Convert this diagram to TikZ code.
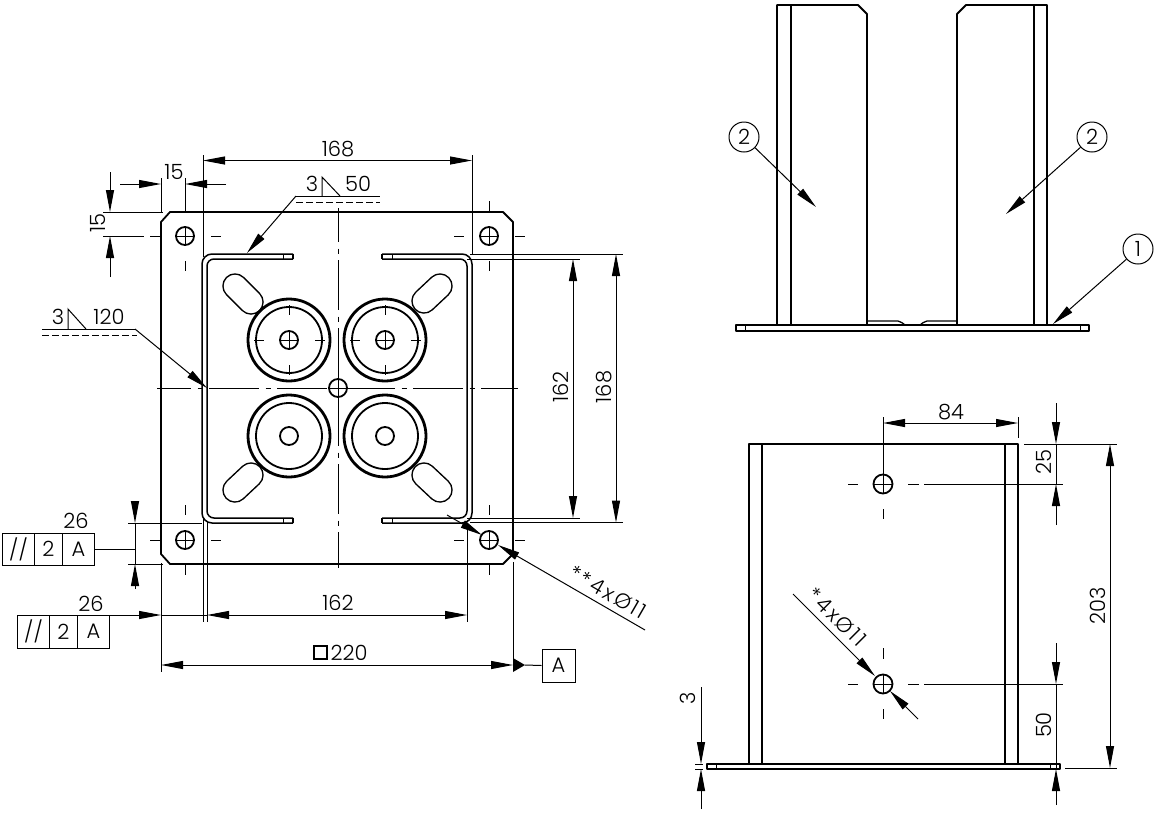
\documentclass[tikz,border=0pt]{standalone}
\usepackage{fontspec}
\setmainfont[UprightFont=* Light]{Poppins}
\usetikzlibrary{arrows.meta}
\tikzset{
  >={Triangle[length=22pt,width=8pt]},
  obj/.style={line width=1.8pt,line join=round},
  heavy/.style={line width=2.8pt},
  thin1/.style={line width=1pt},
  dim/.style={line width=1pt},
  lbl/.style={inner sep=0pt,font=\fontsize{21}{21}\selectfont},
  spaced/.style={inner sep=0pt,font=\fontsize{21}{21}\selectfont\addfontfeature{LetterSpace=11}},
  cell/.style={draw,line width=1pt,inner sep=0pt,font=\fontsize{21}{21}\selectfont,minimum height=32pt},
  balloon/.style={draw,circle,line width=1pt,minimum size=30pt,inner sep=0pt,font=\fontsize{21}{21}\selectfont},
  axisline/.style={line width=1pt,dash pattern=on 50pt off 6.5pt on 5pt off 6.5pt,dash phase=16pt},
}
\newcommand{\slotshape}[4]{%
  \draw[line width=25.5pt,line cap=round] (#1,#2) -- (#3,#4);
  \draw[white,line width=22.5pt,line cap=round] (#1,#2) -- (#3,#4);}
\begin{document}
\begin{tikzpicture}[x=1pt,y=-1pt]
\useasboundingbox (0,0) rectangle (1160,815);
\fill[white] (0,0) rectangle (1160,815);

% ---------- plan view ----------
\draw[obj] (170,212) -- (503,212) -- (513,222) -- (513,554) -- (503,564) -- (170,564) -- (161,554) -- (161,222) -- cycle;
\slotshape{235}{286}{251}{302}
\slotshape{440}{286}{424}{301}
\slotshape{235}{490}{251}{475}
\slotshape{440}{490}{424}{475}
% channel
\draw[obj,line width=1.5pt] (293,254) -- (212,254) arc[start angle=270,end angle=180,radius=10] -- (202,513) arc[start angle=180,end angle=90,radius=10] -- (293,523);
\draw[obj,line width=1.5pt] (293,259) -- (214,259) arc[start angle=270,end angle=180,radius=7] -- (207,511) arc[start angle=180,end angle=90,radius=7] -- (293,518);
\draw[obj,line width=1.5pt] (293,254) -- (293,259) (293,518) -- (293,523);
\draw[thin1] (283,254) -- (283,259) (283,518) -- (283,523);
\draw[obj,line width=1.5pt] (382,254) -- (462,254) arc[start angle=270,end angle=360,radius=10] -- (472,513) arc[start angle=0,end angle=90,radius=10] -- (382,523);
\draw[obj,line width=1.5pt] (382,259) -- (460,259) arc[start angle=270,end angle=360,radius=7] -- (467,511) arc[start angle=0,end angle=90,radius=7] -- (382,518);
\draw[obj,line width=1.5pt] (382,254) -- (382,259) (382,518) -- (382,523);
\draw[thin1] (392,254) -- (392,259) (392,518) -- (392,523);
% rings
\foreach \cx/\cy in {289/340,385/340,289/436,385/436}{
  \draw[heavy] (\cx,\cy) circle (41);
  \draw[obj] (\cx,\cy) circle (33);
  \draw[obj] (\cx,\cy) circle (9);
}
\foreach \cx in {289,385}{
  \draw[thin1] (\cx-9,340) -- (\cx+9,340) (\cx,331) -- (\cx,349)
    (\cx-35,340) -- (\cx-25,340) (\cx+26,340) -- (\cx+36,340)
    (\cx,305) -- (\cx,315) (\cx,365) -- (\cx,375);
}
% corner holes
\foreach \cx/\cy in {185/236,489/236,185/540,489/540}{
  \draw[obj] (\cx,\cy) circle (9);
  \draw[thin1] (\cx-9,\cy) -- (\cx+9,\cy) (\cx,\cy-9) -- (\cx,\cy+9);
  \draw[thin1] (\cx-35,\cy) -- (\cx-25,\cy) (\cx+26,\cy) -- (\cx+36,\cy) (\cx,\cy+25) -- (\cx,\cy+35);
}
\draw[thin1] (185,178) -- (185,211) (489,201) -- (489,211) (185,505) -- (185,515) (489,505) -- (489,515);
% centre
\draw[obj] (338,388) circle (9);
\draw[thin1] (329,388) -- (347,388) (338,379) -- (338,397);
\draw[axisline] (157,388) -- (518,388);
\draw[axisline] (338,208) -- (338,568);

% dimension 168 top
\draw[dim] (203,155) -- (203,257) (472,155) -- (472,254);
\draw[dim,<->] (203,160.5) -- (472,160.5);
\node[lbl] (d168a) at (338,149) {168};
% 15 horizontal
\draw[dim] (161,178) -- (161,213);
\draw[dim,->] (120,184) -- (161,184);
\draw[dim,->] (226,184) -- (185,184);
\node[lbl] (d15a) at (174,172) {15};
% 15 vertical
\draw[dim] (103,212) -- (163,212) (103,236) -- (144,236);
\draw[dim,->] (110,172) -- (110,212);
\draw[dim,->] (110,277) -- (110,236);
\node[lbl,rotate=90] (d15b) at (98,223) {15};
% weld 50
\coordinate (w1) at (296,196);
\coordinate (w1t) at (247,253);
\draw[dim,->] (w1) -- (w1t);
\draw[dim] (w1) -- (380,196);
\draw[dim,dash pattern=on 7pt off 3pt] (296,202) -- (380,202);
\draw[dim] (322,196) -- (322,177) -- (340,196);
\node[lbl] (w1a) at (312,184) {3};
\node[lbl] (w1b) at (358,184) {50};
% weld 120
\coordinate (w2) at (135,329);
\coordinate (w2t) at (207,388);
\draw[dim,->] (w2) -- (w2t);
\draw[dim] (42,329) -- (w2);
\draw[dim,dash pattern=on 7pt off 3pt] (42,335) -- (137,335);
\draw[dim] (68,329) -- (68,309) -- (86,329);
\node[lbl] (w2a) at (58,317) {3};
\node[lbl] (w2b) at (109,317) {120};
% tolerance frame 1
\node[cell,minimum width=32pt,anchor=west] (f1a) at (2,549) {//};
\node[cell,minimum width=28pt,anchor=west] (f1b) at (34,549) {2};
\node[cell,minimum width=32pt,anchor=west] (f1c) at (62,549) {A};
\node[lbl] (f1t) at (76,521) {26};
\coordinate (f1e) at (135,549);
\draw[dim] (f1c.east) -- (f1e);
\draw[dim] (128,523) -- (202,523) (128,564) -- (163,564);
\draw[dim,->] (135,501) -- (135,523);
\draw[dim,->] (135,589) -- (135,564);
\draw[dim] (135,523) -- (135,564);
% tolerance frame 2
\node[cell,minimum width=32pt,minimum height=33pt,anchor=west] (f2a) at (17,631.5) {//};
\node[cell,minimum width=28pt,minimum height=33pt,anchor=west] (f2b) at (49,631.5) {2};
\node[cell,minimum width=32pt,minimum height=33pt,anchor=west] (f2c) at (77,631.5) {A};
\node[lbl] (f2t) at (91,604) {26};
\draw[dim,->] (109,615) -- (161,615);
\draw[dim] (161,563) -- (161,672) (203,518) -- (203,622) (207,522) -- (207,622) (467,523) -- (467,622);
\draw[dim] (161,615) -- (207,615);
\draw[dim,<->] (207,615) -- (467,615);
\node[lbl] (d162a) at (338,603) {162};
% 220
\draw[dim] (513,562) -- (513,665);
\draw[dim,<->] (161,665) -- (513,665);
\draw[thin1,line width=1.2pt] (314,646) rectangle (327,659);
\node[lbl] (d220) at (349,653) {220};
\node[draw,line width=1pt,minimum size=33pt,inner sep=0pt,font=\fontsize{21}{21}\selectfont] (datum) at (558.5,665.5) {A};
\fill (513,658) -- (525,665) -- (513,672) -- cycle;
\coordinate (dat) at (525,665);
\draw[dim] (dat) -- (datum.west);
% 162, 168 vertical
\draw[dim] (467,259) -- (580,259) (467,518) -- (580,518) (470,254) -- (623,254) (470,522.5) -- (623,522.5);
\draw[dim,<->] (573,259) -- (573,518);
\draw[dim,<->] (616,254) -- (616,522.5);
\node[lbl,rotate=90] (d162b) at (561,387) {162};
\node[lbl,rotate=90] (d168b) at (604,387) {168};
% leader 4x dia 11 (plan)
\draw[dim,->] (447,515) -- (482,535);
\draw[dim,->] (645,630) -- (498,545);
\node[spaced,rotate=-30] (d4a) at (608,592) {**4xØ11};

% ---------- upper elevation ----------
\draw[obj] (777,325) -- (777,5) -- (858,5) -- (867,14) -- (867,325);
\draw[obj] (791,5) -- (791,325);
\draw[obj] (957,325) -- (957,14) -- (966,5) -- (1047,5) -- (1047,325);
\draw[obj] (1034,5) -- (1034,325);
\draw[obj] (736,325) rectangle (1089,331);
\draw[thin1] (745,325) -- (745,331) (1080,325) -- (1080,331);
\draw[line width=1.3pt] (867,321) -- (898,321) .. controls (901,321) and (903,324) .. (905,325);
\draw[line width=1.3pt] (957,321) -- (927,321) .. controls (924,321) and (922,324) .. (920,325);
\node[balloon] (b2l) at (744,137) {2};
\node[balloon] (b2r) at (1092,137) {2};
\node[balloon] (b1) at (1138,249) {1};
\coordinate (t2l) at (816,207);
\coordinate (t2r) at (1006,214);
\coordinate (t1) at (1053,324);
\draw[dim,->] (b2l) -- (t2l);
\draw[dim,->] (b2r) -- (t2r);
\draw[dim,->] (b1) -- (t1);

% ---------- lower elevation ----------
\draw[obj] (749,764) -- (749,444) -- (1018,444) -- (1018,764);
\draw[obj] (762,444) -- (762,764) (1005,444) -- (1005,764);
\draw[obj] (707,764) rectangle (1060,769);
\draw[thin1] (716,764) -- (716,769) (1050,764) -- (1050,769);
\foreach \cy in {484,684}{
  \draw[obj] (883,\cy) circle (9.5);
  \draw[thin1] (873.5,\cy) -- (892.5,\cy) (883,\cy-9.5) -- (883,\cy+9.5);
  \draw[thin1] (848,\cy) -- (858,\cy) (908,\cy) -- (919,\cy) (924,\cy) -- (1063,\cy);
}
\draw[thin1] (883,509) -- (883,519) (883,648) -- (883,659) (883,709) -- (883,719);
% 84
\draw[dim] (883,417) -- (883,474.5) (1018,417) -- (1018,438);
\draw[dim,<->] (883,423) -- (1018,423);
\node[lbl] (d84) at (951,412) {84};
% 25
\draw[dim] (1024,444) -- (1117,444);
\draw[dim,->] (1056,403) -- (1056,444);
\draw[dim,->] (1056,525) -- (1056,484);
\draw[dim] (1056,444) -- (1056,484);
\node[lbl,rotate=90] (d25) at (1044,462) {25};
% 203
\draw[dim] (1065,768) -- (1117,768);
\draw[dim,<->] (1110,444) -- (1110,768);
\node[lbl,rotate=90] (d203) at (1098,606) {203};
% 50
\draw[dim,->] (1056,643) -- (1056,684);
\draw[dim,->] (1056,805) -- (1056,769);
\draw[dim] (1056,684) -- (1056,769);
\node[lbl,rotate=90] (d50) at (1044,725) {50};
% 3
\draw[dim] (695,764) -- (703,764) (695,769) -- (703,769);
\draw[dim,->] (701,687) -- (701,764);
\draw[dim,->] (701,809) -- (701,769);
\node[lbl,rotate=90] (d3) at (688,698) {3};
% leader 4x dia 11 (lower)
\draw[dim,->] (793,594) -- (875,676);
\draw[dim,->] (918,719) -- (890,691);
\node[spaced,rotate=-45] (d4b) at (837,617) {*4xØ11};
\end{tikzpicture}
\end{document}
